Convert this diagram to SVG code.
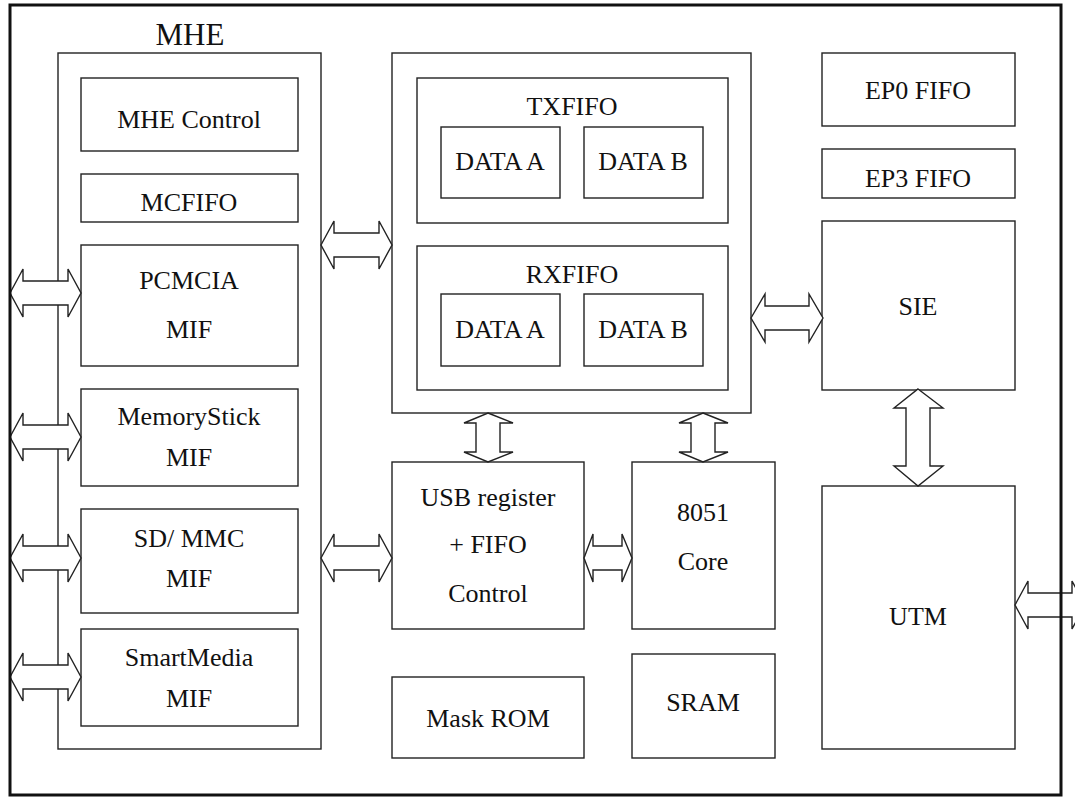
<svg xmlns="http://www.w3.org/2000/svg" width="1075" height="797" viewBox="0 0 1075 797">
<style>
.box{fill:none;stroke:#222;stroke-width:1.4}
.wbox{fill:#fff;stroke:#222;stroke-width:1.4}
.arr{fill:#fff;stroke:#222;stroke-width:1.4;stroke-linejoin:miter}
text{font-family:"Liberation Serif","Times New Roman",serif;font-size:26px;fill:#111;text-anchor:middle}
.big{font-size:31px}
</style>
<rect width="1075" height="797" fill="#fff"/>
<g id="mhe">
<rect class="box" x="58" y="53" width="263" height="696"/>
<text class="big" x="190" y="45">MHE</text>
</g>
<g id="mhe-control"><rect class="box" x="81" y="78" width="217" height="73"/><text x="189" y="128">MHE Control</text></g>
<g id="mcfifo"><rect class="box" x="81" y="174" width="217" height="48"/><text x="189" y="211">MCFIFO</text></g>
<g id="pcmcia"><rect class="box" x="81" y="245" width="217" height="121"/><text x="189" y="289">PCMCIA</text><text x="189" y="338">MIF</text></g>
<g id="memorystick"><rect class="box" x="81" y="389" width="217" height="97"/><text x="189" y="425">MemoryStick</text><text x="189" y="466">MIF</text></g>
<g id="sdmmc"><rect class="box" x="81" y="509" width="217" height="104"/><text x="189" y="547">SD/ MMC</text><text x="189" y="587">MIF</text></g>
<g id="smartmedia"><rect class="box" x="81" y="629" width="217" height="97"/><text x="189" y="666">SmartMedia</text><text x="189" y="707">MIF</text></g>

<g id="fifo-block"><rect class="box" x="392" y="53" width="359" height="360"/></g>
<g id="txfifo"><rect class="box" x="417" y="78" width="311" height="145"/><text x="572" y="115">TXFIFO</text></g>
<g id="tx-data-a"><rect class="box" x="441" y="127" width="119" height="71"/><text x="500" y="170">DATA A</text></g>
<g id="tx-data-b"><rect class="box" x="584" y="127" width="119" height="71"/><text x="643" y="170">DATA B</text></g>
<g id="rxfifo"><rect class="box" x="417" y="246" width="311" height="144"/><text x="572" y="283">RXFIFO</text></g>
<g id="rx-data-a"><rect class="box" x="441" y="294" width="119" height="72"/><text x="500" y="338">DATA A</text></g>
<g id="rx-data-b"><rect class="box" x="584" y="294" width="119" height="72"/><text x="643" y="338">DATA B</text></g>

<g id="ep0"><rect class="box" x="822" y="53" width="193" height="73"/><text x="918" y="99">EP0 FIFO</text></g>
<g id="ep3"><rect class="box" x="822" y="149" width="193" height="49"/><text x="918" y="187">EP3 FIFO</text></g>
<g id="sie"><rect class="box" x="822" y="221" width="193" height="169"/><text x="918" y="315">SIE</text></g>
<g id="utm"><rect class="box" x="822" y="486" width="193" height="263"/><text x="918" y="625">UTM</text></g>

<g id="usb-register"><rect class="box" x="392" y="462" width="192" height="167"/><text x="488" y="506">USB register</text><text x="488" y="553">+ FIFO</text><text x="488" y="602">Control</text></g>
<g id="core8051"><rect class="box" x="632" y="462" width="143" height="167"/><text x="703" y="521">8051</text><text x="703" y="570">Core</text></g>
<g id="maskrom"><rect class="box" x="392" y="677" width="192" height="81"/><text x="488" y="727">Mask ROM</text></g>
<g id="sram"><rect class="box" x="632" y="654" width="143" height="104"/><text x="703" y="711">SRAM</text></g>

<g id="connectors">
<!-- left external arrows -->
<path class="arr" d="M10,293 L23,269 L23,281 L68,281 L68,269 L81,293 L68,317 L68,305 L23,305 L23,317 Z"/>
<path class="arr" d="M10,437 L23,413 L23,425 L68,425 L68,413 L81,437 L68,461 L68,449 L23,449 L23,461 Z"/>
<path class="arr" d="M10,558 L23,534 L23,546 L68,546 L68,534 L81,558 L68,582 L68,570 L23,570 L23,582 Z"/>
<path class="arr" d="M10,677 L23,653 L23,665 L68,665 L68,653 L81,677 L68,701 L68,689 L23,689 L23,701 Z"/>
<!-- MHE to FIFO block -->
<path class="arr" d="M321,245 L334,221 L334,233 L379,233 L379,221 L392,245 L379,269 L379,257 L334,257 L334,269 Z"/>
<!-- MHE to USB register -->
<path class="arr" d="M321,558 L334,534 L334,546 L379,546 L379,534 L392,558 L379,582 L379,570 L334,570 L334,582 Z"/>
<!-- FIFO block to SIE -->
<path class="arr" d="M751,318 L765,294 L765,306 L809,306 L809,294 L823,318 L809,342 L809,330 L765,330 L765,342 Z"/>
<!-- USB register to 8051 -->
<path class="arr" d="M584,558 L593,534 L593,546 L622,546 L622,534 L632,558 L622,582 L622,570 L593,570 L593,582 Z"/>
<!-- FIFO block to USB register -->
<path class="arr" d="M488,413 L513,423 L500,423 L500,452 L513,452 L488,462 L464,452 L476,452 L476,423 L464,423 Z"/>
<!-- FIFO block to 8051 -->
<path class="arr" d="M703,413 L728,423 L715,423 L715,452 L728,452 L703,462 L679,452 L691,452 L691,423 L679,423 Z"/>
<!-- SIE to UTM -->
<path class="arr" d="M918,389 L943,408 L930,408 L930,466 L943,466 L918,486 L894,466 L906,466 L906,408 L894,408 Z"/>
<!-- UTM external -->
<path class="arr" d="M1015,605 L1028,581 L1028,593 L1072,593 L1072,581 L1085,605 L1072,629 L1072,617 L1028,617 L1028,629 Z"/>
</g>
<g id="frame"><rect x="10" y="5" width="1051" height="790" fill="none" stroke="#111" stroke-width="3"/></g>
</svg>
